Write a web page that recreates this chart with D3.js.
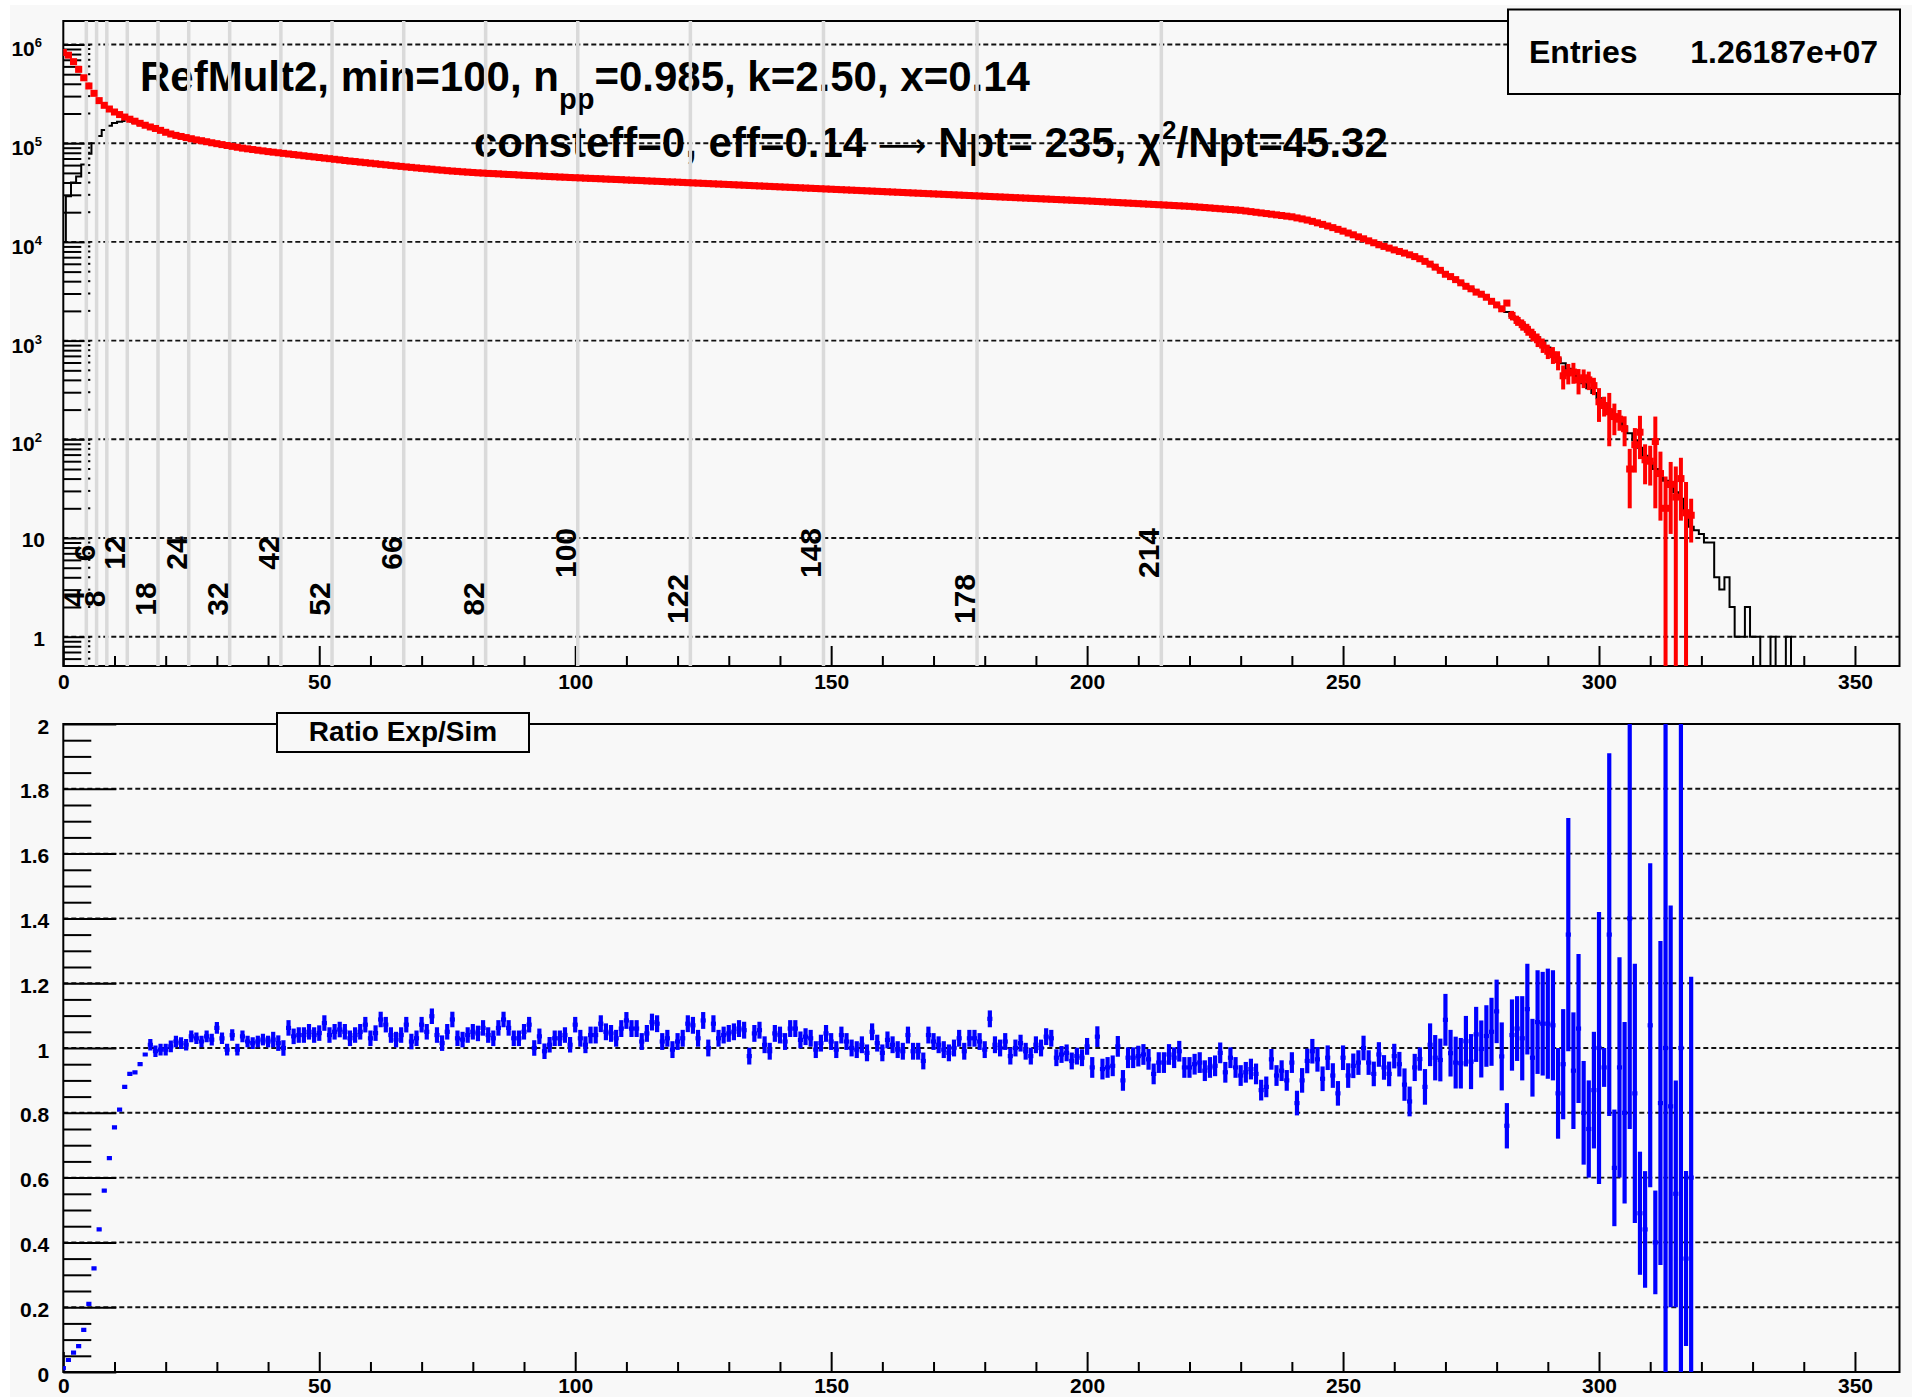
<!DOCTYPE html>
<html>
<head>
<meta charset="utf-8">
<script src="https://cdn.jsdelivr.net/npm/d3@7"></script>
<style>
  html, body { margin: 0; padding: 0; background: #fff; }
  svg { display: block; }
</style>
</head>
<body>
<svg id="chart" width="1912" height="1397"></svg>
<script>
// ---- data ----
const binWidth = 1;            // bins are centred on integer multiplicities
const xDomain = [0, 358.7];
const yTopDomain = [0.505, 1.73e6];
const ratioDomain = [0, 2];

const xMajorTicks = [0, 50, 100, 150, 200, 250, 300, 350];
const decadeTicks = [1, 10, 100, 1e3, 1e4, 1e5, 1e6];
const ratioTicks = [0, 0.2, 0.4, 0.6, 0.8, 1, 1.2, 1.4, 1.6, 1.8, 2];

const centralityCuts = [4, 6, 8, 12, 18, 24, 32, 42, 52, 66, 82, 100, 122, 148, 178, 214];

const entries = "1.26187e+07";

// black histogram (Exp), one value per bin starting at 0
const expCounts = [
  10000, 29000, 40000, 46000, 61000, 78000, 100000, 118000, 136000, 150000,
  160000, 165000, 168000, 166000, 160000, 154000, 150000, 147000, 141000, 135000,
  129000, 124000, 120000, 117000, 114000, 111000, 108000, 106000, 103500, 101000,
  98900, 96800, 94800, 92900, 91000, 89100, 87700, 86300, 84900, 83600,
  82200, 81100, 80000, 78900, 77800, 76700, 75700, 74600, 73600, 72600,
  71600, 70600, 69700, 68700, 67800, 66800, 65900, 65200, 64300, 63500,
  62700, 61900, 61100, 60400, 59600, 58900, 58200, 57500, 56900, 56200,
  55600, 55000, 54500, 53800, 53300, 52700, 52200, 51800, 51300, 50900,
  50500, 50100, 49800, 49400, 49200, 48900, 48500, 48200, 48000, 47600,
  47300, 47000, 46800, 46500, 46200, 45900, 45700, 45400, 45200, 44900,
  44700, 44500, 44200, 44000, 43800, 43600, 43300, 43100, 42900, 42700,
  42400, 42200, 42000, 41800, 41500, 41300, 41100, 40900, 40600, 40500,
  40300, 40050, 39830, 39610, 39400, 39180, 38970, 38760, 38550, 38340,
  38130, 37920, 37710, 37510, 37300, 37100, 36900, 36700, 36500, 36300,
  36100, 35900, 35710, 35510, 35320, 35130, 34940, 34750, 34560, 34370,
  34180, 33990, 33810, 33630, 33440, 33260, 33080, 32900, 32720, 32540,
  32360, 32190, 32010, 31840, 31670, 31490, 31320, 31150, 30980, 30810,
  30650, 30480, 30310, 30150, 29990, 29820, 29660, 29500, 29340, 29180,
  29020, 28860, 28700, 28550, 28390, 28240, 28080, 27930, 27780, 27630,
  27480, 27330, 27180, 27030, 26880, 26740, 26590, 26450, 26300, 26160,
  26020, 25860, 25690, 25530, 25370, 25210, 25050, 24890, 24730, 24580,
  24420, 24270, 24110, 23960, 23810, 23660, 23510, 23360, 23210, 23070,
  22920, 22710, 22500, 22290, 22090, 21880, 21680, 21480, 21280, 21090,
  20890, 20580, 20270, 19960, 19660, 19370, 19080, 18790, 18510, 18230,
  17960, 17500, 17100, 16650, 16150, 15600, 15050, 14500, 13950, 13400,
  12850, 12300, 11800, 11250, 10750, 10250, 9800, 9350, 9000, 8650,
  8300, 8000, 7700, 7400, 7100, 6750, 6350, 5950, 5550, 5150,
  4750, 4400, 4100, 3850, 3600, 3350, 3150, 2950, 2750, 2550,
  2350, 2150, 1950, 1780, 1620, 1470, 1330, 1200, 1080, 960,
  850, 740, 660, 590, 520, 460, 415, 370, 330, 295,
  260, 230, 200, 175, 155, 135, 115, 98, 82, 68,
  58, 50, 44, 38, 33, 29, 25, 19, 13, 12,
  11, 9, 9, 4, 3, 4, 2, 1, 1, 2,
  1, 1, 0, 0, 1, 0, 0, 1, 0
];

// red points (Sim), one value per bin starting at 0
const simCounts = [
  830000, 780000, 670000, 560000, 460000, 380000, 320000, 270000, 242000, 222000,
  207000, 195000, 184000, 175000, 167000, 159000, 152000, 146000, 141000, 135000,
  129000, 124000, 120000, 117000, 114000, 111000, 108000, 106000, 103500, 101000,
  98900, 96800, 94800, 92900, 91000, 89100, 87700, 86300, 84900, 83600,
  82200, 81100, 80000, 78900, 77800, 76700, 75700, 74600, 73600, 72600,
  71600, 70600, 69700, 68700, 67800, 66800, 65900, 65200, 64300, 63500,
  62700, 61900, 61100, 60400, 59600, 58900, 58200, 57500, 56900, 56200,
  55600, 55000, 54500, 53800, 53300, 52700, 52200, 51800, 51300, 50900,
  50500, 50100, 49800, 49400, 49200, 48900, 48500, 48200, 48000, 47600,
  47300, 47000, 46800, 46500, 46200, 45900, 45700, 45400, 45200, 44900,
  44700, 44500, 44200, 44000, 43800, 43600, 43300, 43100, 42900, 42700,
  42400, 42200, 42000, 41800, 41500, 41300, 41100, 40900, 40600, 40500,
  40300, 40050, 39830, 39610, 39400, 39180, 38970, 38760, 38550, 38340,
  38130, 37920, 37710, 37510, 37300, 37100, 36900, 36700, 36500, 36300,
  36100, 35900, 35710, 35510, 35320, 35130, 34940, 34750, 34560, 34370,
  34180, 33990, 33810, 33630, 33440, 33260, 33080, 32900, 32720, 32540,
  32360, 32190, 32010, 31840, 31670, 31490, 31320, 31150, 30980, 30810,
  30650, 30480, 30310, 30150, 29990, 29820, 29660, 29500, 29340, 29180,
  29020, 28860, 28700, 28550, 28390, 28240, 28080, 27930, 27780, 27630,
  27480, 27330, 27180, 27030, 26880, 26740, 26590, 26450, 26300, 26160,
  26020, 25860, 25690, 25530, 25370, 25210, 25050, 24890, 24730, 24580,
  24420, 24270, 24110, 23960, 23810, 23660, 23510, 23360, 23210, 23070,
  22920, 22710, 22500, 22290, 22090, 21880, 21680, 21480, 21280, 21090,
  20890, 20580, 20270, 19960, 19660, 19370, 19080, 18790, 18510, 18230,
  17960, 17500, 17100, 16650, 16150, 15600, 15050, 14500, 13950, 13400,
  12850, 12300, 11800, 11250, 10750, 10250, 9800, 9350, 9000, 8650,
  8300, 8000, 7700, 7400, 7100, 6750, 6350, 5950, 5550, 5150,
  4700, 4450, 4150, 3850, 3550, 3350, 3100, 2950, 2750, 2500,
  2300, 2100, 2400, 1800, 1600, 1450, 1300, 1150, 1020, 900,
  780, 720, 640, 440, 470, 480, 400, 420, 400, 350,
  240, 220, 190, 170, 160, 128, 50, 88, 118, 62,
  60, 95, 45, 20, 35, 26, 40, 18, 17
];

// Sim errors where they are visible (bins from simTailStart on)
const simTailStart = 270;
const simTailErr = [
  280, 265, 250, 230, 215, 200, 185, 175, 165, 150,
  140, 130, 150, 200, 190, 190, 180, 170, 160, 150,
  130, 140, 140, 120, 110, 115, 115, 90, 85, 70,
  90, 50, 105, 60, 38, 43, 30, 42, 55, 27,
  26, 75, 30, 22, 24, 27, 25, 19, 8
];

// blue ratio Exp/Sim, one value per bin starting at 0
const ratioValues = [
  0.012, 0.037, 0.06, 0.08, 0.13, 0.21, 0.32, 0.44, 0.56, 0.66,
  0.755, 0.81, 0.88, 0.92, 0.925, 0.95, 0.98, 1.01, 0.99, 0.995,
  0.995, 1.005, 1.02, 1.015, 1.01, 1.036, 1.03, 1.02, 1.036, 1.026,
  1.062, 1.03, 0.995, 1.04, 0.995, 1.036, 1.02, 1.015, 1.02, 1.026,
  1.02, 1.026, 1.015, 1.0, 1.062, 1.036, 1.04, 1.04, 1.05, 1.04,
  1.046, 1.077, 1.04, 1.05, 1.057, 1.05, 1.03, 1.04, 1.05, 1.072,
  1.03, 1.046, 1.088, 1.072, 1.04, 1.026, 1.04, 1.072, 1.02, 1.03,
  1.072, 1.05, 1.098, 1.04, 1.015, 1.05, 1.088, 1.03, 1.026, 1.04,
  1.05, 1.045, 1.062, 1.04, 1.03, 1.062, 1.088, 1.062, 1.03, 1.03,
  1.05, 1.072, 1.0, 1.036, 0.99, 1.01, 1.03, 1.03, 1.04, 1.01,
  1.072, 1.03, 1.01, 1.04, 1.04, 1.075, 1.05, 1.045, 1.03, 1.06,
  1.085, 1.06, 1.06, 1.02, 1.045, 1.08, 1.075, 1.02, 1.03, 0.995,
  1.02, 1.03, 1.075, 1.07, 1.03, 1.085, 1.0, 1.075, 1.03, 1.04,
  1.045, 1.05, 1.06, 1.055, 0.975, 1.045, 1.055, 1.01, 0.99, 1.045,
  1.04, 1.02, 1.06, 1.06, 1.025, 1.035, 1.03, 0.995, 1.015, 1.045,
  1.02, 0.995, 1.04, 1.02, 1.0, 0.995, 1.01, 0.985, 1.05, 1.015,
  0.985, 1.025, 1.01, 0.995, 0.99, 1.04, 0.99, 0.99, 0.96, 1.04,
  1.02, 1.01, 0.995, 0.985, 1.0, 1.03, 0.99, 1.03, 1.03, 1.02,
  0.995, 1.09, 1.01, 1.0, 1.02, 0.975, 1.0, 1.015, 0.99, 0.975,
  1.01, 1.0, 1.035, 1.03, 0.97, 0.98, 0.985, 0.96, 0.975, 0.97,
  1.005, 0.94, 1.035, 0.935, 0.94, 0.945, 1.005, 0.9, 0.97, 0.97,
  0.975, 0.98, 0.965, 0.92, 0.955, 0.955, 0.98, 0.97, 0.99, 0.94,
  0.94, 0.95, 0.955, 0.93, 0.94, 0.945, 0.985, 0.925, 0.97, 0.94,
  0.915, 0.925, 0.935, 0.92, 0.87, 0.88, 0.965, 0.915, 0.93, 0.9,
  0.955, 0.83, 0.9, 0.96, 0.99, 0.965, 0.905, 0.97, 0.915, 0.86,
  0.97, 0.915, 0.945, 0.955, 1.0, 0.955, 0.92, 0.98, 0.94, 0.92,
  0.975, 0.95, 0.887, 0.835, 0.94, 0.966, 0.88, 1.01, 0.97, 0.963,
  1.087, 0.984, 0.955, 0.953, 1.021, 0.958, 1.042, 0.997, 1.037, 1.05,
  1.113, 0.974, 0.76, 1.04, 1.06, 1.03, 1.12, 0.97, 1.08, 1.075,
  1.075, 1.07, 0.86, 0.95, 1.35, 0.93, 1.06, 0.8, 0.75, 0.87,
  1.0, 0.94, 1.35, 0.63, 0.94, 0.8, 1.4, 0.86, 0.49, 0.44,
  1.07, 0.4, 0.83, 1.0, 0.82, 0.55, 1.0, 0.35, 0.6
];

const ratioErrors = [
  0.004, 0.004, 0.004, 0.004, 0.004, 0.004, 0.004, 0.004, 0.004, 0.004,
  0.004, 0.004, 0.004, 0.004, 0.004, 0.004, 0.004, 0.018, 0.018, 0.018,
  0.018, 0.018, 0.018, 0.018, 0.018, 0.018, 0.018, 0.018, 0.018, 0.018,
  0.018, 0.018, 0.018, 0.018, 0.018, 0.018, 0.018, 0.018, 0.018, 0.018,
  0.018, 0.024, 0.024, 0.024, 0.024, 0.024, 0.024, 0.024, 0.024, 0.024,
  0.024, 0.024, 0.024, 0.024, 0.024, 0.024, 0.024, 0.024, 0.024, 0.024,
  0.024, 0.024, 0.024, 0.024, 0.024, 0.024, 0.024, 0.024, 0.024, 0.024,
  0.024, 0.024, 0.024, 0.024, 0.024, 0.024, 0.024, 0.024, 0.024, 0.024,
  0.024, 0.024, 0.024, 0.024, 0.024, 0.024, 0.024, 0.024, 0.024, 0.024,
  0.024, 0.024, 0.024, 0.024, 0.024, 0.024, 0.024, 0.024, 0.024, 0.024,
  0.024, 0.026, 0.026, 0.026, 0.026, 0.026, 0.026, 0.026, 0.026, 0.026,
  0.026, 0.026, 0.026, 0.026, 0.026, 0.026, 0.026, 0.026, 0.026, 0.026,
  0.026, 0.026, 0.026, 0.026, 0.026, 0.026, 0.026, 0.026, 0.026, 0.026,
  0.026, 0.026, 0.026, 0.026, 0.026, 0.026, 0.026, 0.026, 0.026, 0.026,
  0.026, 0.026, 0.026, 0.026, 0.026, 0.026, 0.026, 0.026, 0.026, 0.026,
  0.026, 0.026, 0.026, 0.026, 0.026, 0.026, 0.026, 0.026, 0.026, 0.026,
  0.026, 0.026, 0.026, 0.026, 0.026, 0.026, 0.026, 0.026, 0.026, 0.026,
  0.026, 0.026, 0.026, 0.026, 0.026, 0.026, 0.026, 0.026, 0.026, 0.026,
  0.026, 0.026, 0.026, 0.026, 0.026, 0.026, 0.026, 0.026, 0.026, 0.026,
  0.026, 0.026, 0.026, 0.026, 0.026, 0.026, 0.026, 0.026, 0.026, 0.026,
  0.026, 0.032, 0.032, 0.032, 0.032, 0.032, 0.032, 0.032, 0.032, 0.032,
  0.032, 0.032, 0.032, 0.032, 0.032, 0.032, 0.032, 0.032, 0.032, 0.032,
  0.032, 0.032, 0.032, 0.032, 0.032, 0.032, 0.032, 0.032, 0.032, 0.032,
  0.032, 0.032, 0.032, 0.032, 0.032, 0.032, 0.032, 0.032, 0.032, 0.032,
  0.032, 0.038, 0.038, 0.038, 0.038, 0.038, 0.038, 0.038, 0.038, 0.038,
  0.038, 0.038, 0.038, 0.038, 0.038, 0.038, 0.038, 0.038, 0.038, 0.038,
  0.038, 0.038, 0.05, 0.046, 0.042, 0.036, 0.055, 0.066, 0.07, 0.066,
  0.08, 0.072, 0.08, 0.078, 0.078, 0.085, 0.085, 0.088, 0.095, 0.105,
  0.098, 0.105, 0.07, 0.11, 0.1, 0.13, 0.14, 0.12, 0.16, 0.16,
  0.17, 0.17, 0.14, 0.17, 0.36, 0.18, 0.23, 0.16, 0.15, 0.18,
  0.42, 0.06, 0.56, 0.18, 0.34, 0.28, 0.65, 0.4, 0.19, 0.18,
  0.5, 0.16, 0.5, 1.05, 0.62, 0.35, 1.05, 0.27, 0.62
];

// ---- layout ----
const W = 1912, H = 1397;
const FONT = '"Liberation Sans", Arial, Helvetica, sans-serif';
const PAD = "#f8f8f8";
const frameX = [63.3, 1899.5];
const topY = [21, 666];
const botY = [724, 1372];

const svg = d3.select("#chart").attr("font-family", FONT);

svg.append("rect").attr("x", 10).attr("y", 5)
  .attr("width", W - 10).attr("height", H - 5).attr("fill", PAD);

const x = d3.scaleLinear().domain(xDomain).range(frameX);
const yTop = d3.scaleLog().domain(yTopDomain).range([topY[1], topY[0]]);
const yBot = d3.scaleLinear().domain(ratioDomain).range([botY[1], botY[0]]);

// bin i is centred on i*binWidth
const binLo = i => x((i - 0.5) * binWidth);
const binHi = i => x((i + 0.5) * binWidth);
const binMid = i => x(i * binWidth);

const defs = svg.append("defs");
defs.append("clipPath").attr("id", "clip-top").append("rect")
  .attr("x", frameX[0]).attr("y", topY[0])
  .attr("width", frameX[1] - frameX[0]).attr("height", topY[1] - topY[0]);
defs.append("clipPath").attr("id", "clip-bot").append("rect")
  .attr("x", frameX[0]).attr("y", botY[0])
  .attr("width", frameX[1] - frameX[0]).attr("height", botY[1] - botY[0]);

const xMinorTicks = d3.range(xDomain[0], xDomain[1], 10).filter(d => d % 50 !== 0);
const logMinorTicks = [];
for (let e = -1; e <= 6; e++) {
  for (let k = 2; k <= 9; k++) {
    const v = k * Math.pow(10, e);
    if (v > yTopDomain[0] && v < yTopDomain[1]) logMinorTicks.push(v);
  }
}
const ratioMinorTicks = d3.range(0, 2.001, 0.05).filter(d => Math.round(d * 100) % 20 !== 0);

function styleAxis(g) {
  g.select(".domain").remove();
  g.attr("font-family", FONT).attr("font-size", 21).attr("font-weight", "bold");
  g.selectAll(".tick line").attr("stroke", "#000").attr("stroke-width", 2);
  g.selectAll(".tick text").attr("fill", "#000");
}

function hGrid(values, scale) {
  svg.append("g").selectAll("line").data(values).join("line")
    .attr("x1", frameX[0]).attr("x2", frameX[1])
    .attr("y1", d => scale(d)).attr("y2", d => scale(d))
    .attr("stroke", "#111").attr("stroke-width", 1.9)
    .attr("stroke-dasharray", "5,3");
}

// ================= top panel =================
hGrid(decadeTicks, yTop);

const title1 = svg.append("text").attr("x", 140).attr("y", 91)
  .attr("font-size", 42).attr("font-weight", "bold");
title1.append("tspan").text("RefMult2, min=100, n");
title1.append("tspan").attr("font-size", 29).attr("dy", 18).text("pp");
title1.append("tspan").attr("dy", -18).text("=0.985, k=2.50, x=0.14");

const title2 = svg.append("text").attr("x", 474).attr("y", 157)
  .attr("font-size", 42).attr("font-weight", "bold");
title2.append("tspan").text("consteff=0, eff=0.14 ");
title2.append("tspan").attr("font-family", '"DejaVu Sans", sans-serif')
  .attr("font-weight", "normal").attr("font-size", 34).text("\u27f6");
title2.append("tspan").text(" Npt= 235, \u03c7");
title2.append("tspan").attr("font-size", 26).attr("dy", -18).text("2");
title2.append("tspan").attr("dy", 18).text("/Npt=45.32");

svg.append("rect").attr("x", frameX[0]).attr("y", topY[0])
  .attr("width", frameX[1] - frameX[0]).attr("height", topY[1] - topY[0])
  .attr("fill", "none").attr("stroke", "#000").attr("stroke-width", 2);

svg.append("g").attr("transform", `translate(0,${topY[1]})`)
  .call(d3.axisBottom(x).tickValues(xMinorTicks).tickSize(-10).tickFormat(""))
  .call(styleAxis);
svg.append("g").attr("transform", `translate(0,${topY[1]})`)
  .call(d3.axisBottom(x).tickValues(xMajorTicks).tickSize(-20).tickPadding(8).tickFormat(d3.format("d")))
  .call(styleAxis);

svg.append("g").attr("transform", `translate(${frameX[0]},0)`)
  .call(d3.axisLeft(yTop).tickValues(logMinorTicks).tickSize(-18).tickFormat(""))
  .call(styleAxis);
svg.append("g").attr("transform", `translate(${frameX[0]},0)`)
  .call(d3.axisLeft(yTop).tickValues(decadeTicks).tickSize(-27).tickFormat(""))
  .call(styleAxis);
// short dotted continuation of the minor ticks
svg.append("g").selectAll("line").data(logMinorTicks).join("line")
  .attr("x1", frameX[0] + 22).attr("x2", frameX[0] + 27)
  .attr("y1", d => yTop(d)).attr("y2", d => yTop(d))
  .attr("stroke", "#000").attr("stroke-width", 2);

const yLabels = svg.append("g").attr("font-size", 21).attr("font-weight", "bold");
decadeTicks.forEach(d => {
  const e = Math.round(Math.log10(d));
  const t = yLabels.append("text").attr("text-anchor", "end");
  if (e >= 2) {
    t.attr("x", 42).attr("y", yTop(d) + 12);
    t.append("tspan").text("10");
    t.append("tspan").attr("font-size", 13).attr("dy", -9).text(e);
  } else {
    t.attr("x", 45).attr("y", yTop(d) + 9).text(e === 1 ? "10" : "1");
  }
});

// Exp histogram
const yClamp = v => (v > 0 ? yTop(v) : topY[1]);
const expPts = [[binLo(0), topY[1]]]
  .concat(expCounts.map((v, i) => [binLo(i), yClamp(v)]))
  .concat([[binLo(expCounts.length), topY[1]]]);
svg.append("path")
  .attr("clip-path", "url(#clip-top)")
  .attr("d", d3.line().curve(d3.curveStepAfter)(expPts))
  .attr("fill", "none").attr("stroke", "#000").attr("stroke-width", 2);

// centrality cut lines (upper edge of the cut bin)
svg.append("g").selectAll("line").data(centralityCuts).join("line")
  .attr("x1", d => x(d + binWidth / 2)).attr("x2", d => x(d + binWidth / 2))
  .attr("y1", topY[0]).attr("y2", topY[1])
  .attr("stroke", "#dadada").attr("stroke-width", 3.5);

// Sim points
const simData = simCounts.map((v, i) => ({
  i, v, e: i >= simTailStart ? simTailErr[i - simTailStart] : 0
}));
const simG = svg.append("g").attr("clip-path", "url(#clip-top)");
simG.selectAll("line").data(simData.filter(d => d.e > 0)).join("line")
  .attr("x1", d => binMid(d.i)).attr("x2", d => binMid(d.i))
  .attr("y1", d => yTop(d.v + d.e))
  .attr("y2", d => (d.v - d.e > yTopDomain[0] ? yTop(d.v - d.e) : topY[1]))
  .attr("stroke", "#ff0000").attr("stroke-width", 4);
simG.selectAll("rect").data(simData).join("rect")
  .attr("x", d => binLo(d.i) - 1)
  .attr("width", d => binHi(d.i) - binLo(d.i) + 2)
  .attr("y", d => yTop(d.v) - 3.5).attr("height", 7)
  .attr("fill", "#ff0000");

// cut labels
svg.append("g").attr("font-size", 30).attr("font-weight", "bold")
  .selectAll("text").data(centralityCuts).join("text")
  .attr("text-anchor", "middle")
  .attr("transform", (d, k) => `translate(${x(d + binWidth / 2) - 2},${k % 2 === 0 ? 599 : 553}) rotate(-90)`)
  .text(d => d);

// stats box
svg.append("rect").attr("x", 1508).attr("y", 9.5).attr("width", 392).attr("height", 84.5)
  .attr("fill", PAD).attr("stroke", "#000").attr("stroke-width", 2);
svg.append("text").attr("x", 1529).attr("y", 63).attr("font-size", 32).attr("font-weight", "bold")
  .text("Entries");
svg.append("text").attr("x", 1878).attr("y", 63).attr("font-size", 32).attr("font-weight", "bold")
  .attr("text-anchor", "end").text(entries);

// ================= bottom panel =================
hGrid(ratioTicks.filter(d => d > 0 && d < 2), yBot);

svg.append("rect").attr("x", frameX[0]).attr("y", botY[0])
  .attr("width", frameX[1] - frameX[0]).attr("height", botY[1] - botY[0])
  .attr("fill", "none").attr("stroke", "#000").attr("stroke-width", 2);

svg.append("g").attr("transform", `translate(0,${botY[1]})`)
  .call(d3.axisBottom(x).tickValues(xMinorTicks).tickSize(-10).tickFormat(""))
  .call(styleAxis);
svg.append("g").attr("transform", `translate(0,${botY[1]})`)
  .call(d3.axisBottom(x).tickValues(xMajorTicks).tickSize(-20).tickPadding(6).tickFormat(d3.format("d")))
  .call(styleAxis);

svg.append("g").attr("transform", `translate(${frameX[0]},0)`)
  .call(d3.axisLeft(yBot).tickValues(ratioMinorTicks).tickSize(-28).tickFormat(""))
  .call(styleAxis);
svg.append("g").attr("transform", `translate(${frameX[0]},0)`)
  .call(d3.axisLeft(yBot).tickValues(ratioTicks).tickSize(-53).tickPadding(14).tickFormat(d3.format("~g")))
  .call(styleAxis)
  .call(g => g.selectAll(".tick text").attr("dy", "0.43em"));

const ratioData = ratioValues.map((v, i) => ({ i, v, e: ratioErrors[i] }));
const ratioG = svg.append("g").attr("clip-path", "url(#clip-bot)")
  .attr("stroke", "#0000ff");
ratioG.selectAll("line.err").data(ratioData).join("line").attr("class", "err")
  .attr("x1", d => binMid(d.i)).attr("x2", d => binMid(d.i))
  .attr("y1", d => yBot(d.v + d.e)).attr("y2", d => yBot(Math.max(d.v - d.e, 0)))
  .attr("stroke-width", 4.2);
ratioG.selectAll("line.val").data(ratioData).join("line").attr("class", "val")
  .attr("x1", d => binLo(d.i)).attr("x2", d => binHi(d.i))
  .attr("y1", d => yBot(d.v)).attr("y2", d => yBot(d.v))
  .attr("stroke-width", 4.2);

svg.append("rect").attr("x", 277).attr("y", 713).attr("width", 252).attr("height", 39)
  .attr("fill", PAD).attr("stroke", "#000").attr("stroke-width", 2);
svg.append("text").attr("x", 403).attr("y", 741).attr("text-anchor", "middle")
  .attr("font-size", 28).attr("font-weight", "bold").text("Ratio Exp/Sim");
</script>
</body>
</html>
